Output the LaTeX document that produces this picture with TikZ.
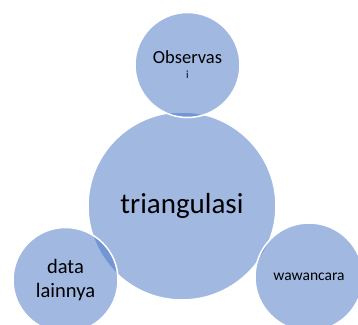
\documentclass[tikz,border=0pt]{standalone}
\usepackage{fontspec}
\setmainfont{Carlito}
\definecolor{venn}{HTML}{4472C4}
\tikzset{
  bubble/.style={circle, fill=venn, fill opacity=0.5, text opacity=1,
    draw=white, draw opacity=1, line width=1.5pt, inner sep=0pt,
    align=center, text=black},
}

\begin{document}
\begin{tikzpicture}[x=1pt, y=-1pt]
	%%%%% START %%%%%
	\useasboundingbox (0, 0) rectangle (358, 324);
	
	\node[bubble, minimum size=188pt, font=\fontsize{29}{33}\selectfont] (tri) at (182, 206) {triangulasi};
	
	\node[bubble, minimum size=105pt] (obs) at (187.5, 65)
		{{\fontsize{18.5}{20}\selectfont Observas}\\[3pt]{\fontsize{11}{12}\selectfont i}};
	\node[bubble, minimum size=105pt, font=\fontsize{20.5}{24}\selectfont] (data) at (65.5, 280) {data\\lainnya};
	\node[bubble, minimum size=108pt, font=\fontsize{15.5}{18}\selectfont] (waw) at (309, 277) {wawancara};
	
	%%%%% END %%%%%
\end{tikzpicture}
\end{document}
